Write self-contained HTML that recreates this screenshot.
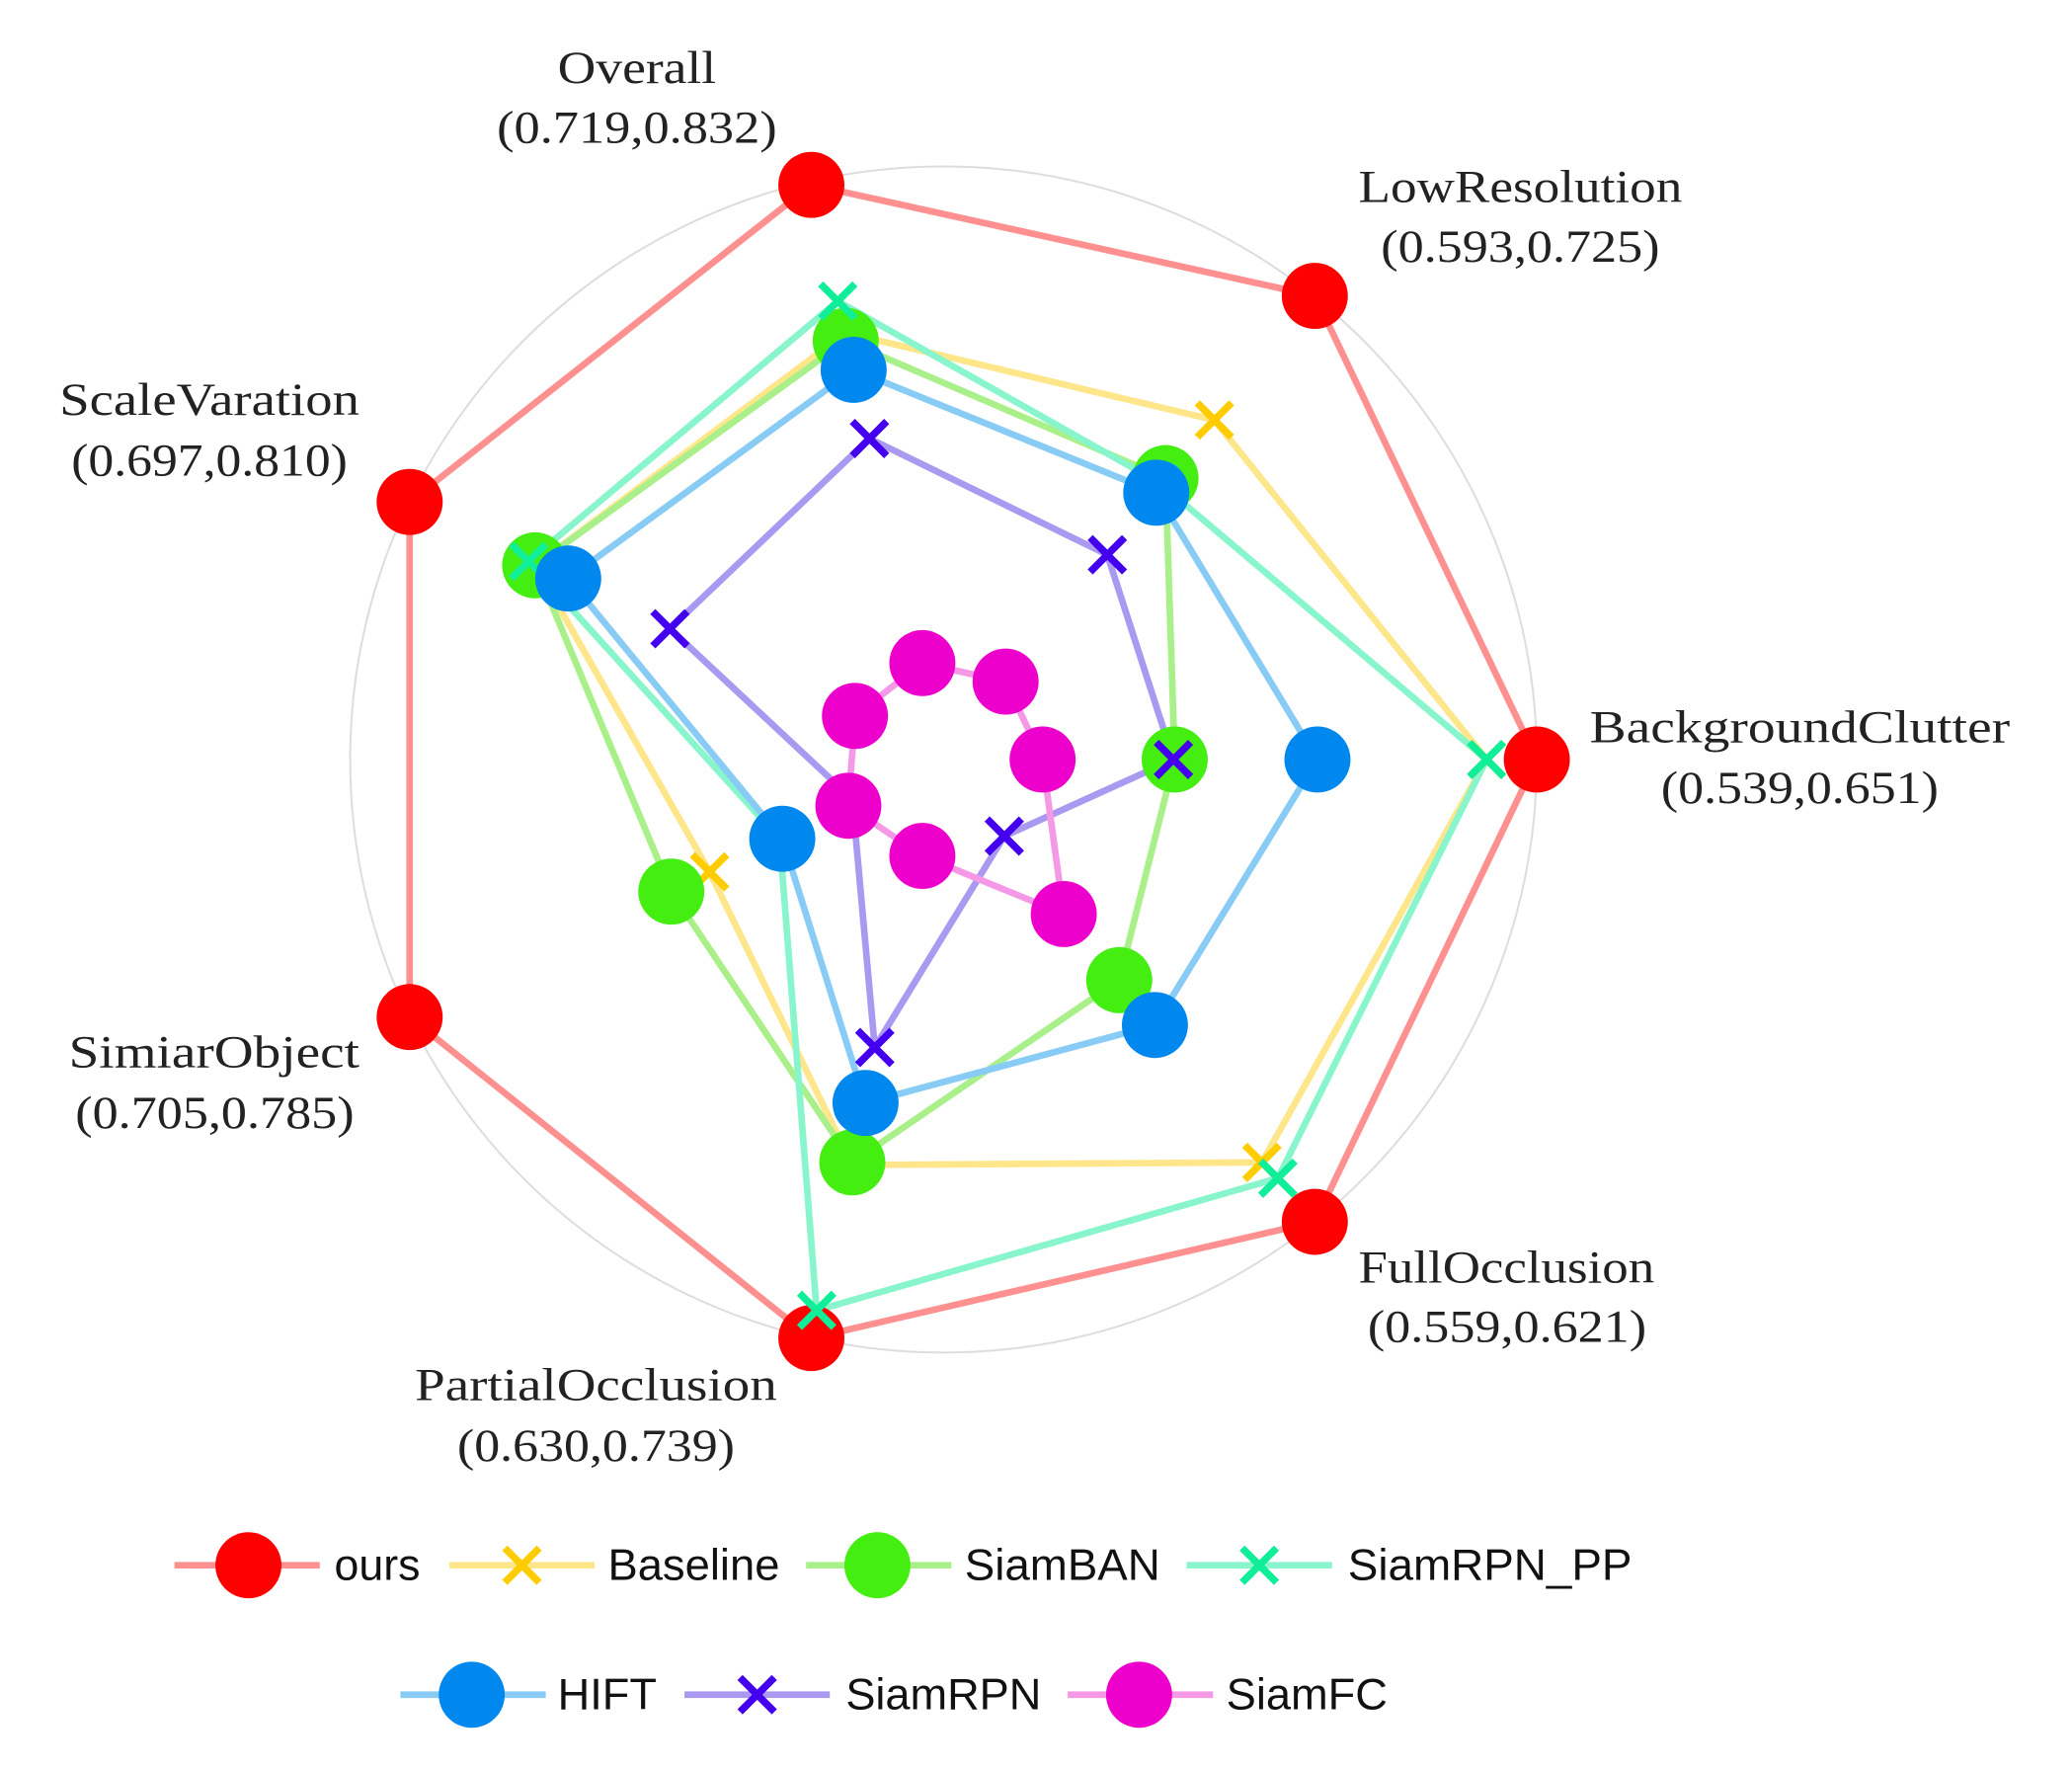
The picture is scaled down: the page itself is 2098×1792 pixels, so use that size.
<!DOCTYPE html>
<html><head><style>html,body{margin:0;padding:0;background:#fff}svg{display:block}</style></head>
<body>
<svg width="2098" height="1792" viewBox="0 0 1568 1340" preserveAspectRatio="none" xmlns="http://www.w3.org/2000/svg">
<defs>
<g id="x"><path d="M-13,-13L13,13M13,-13L-13,13" stroke-width="5.5" fill="none"/></g>
</defs>
<circle cx="714" cy="575" r="449" fill="none" stroke="#dddddd" stroke-width="1.5"/>
<g fill="none" stroke-width="5" stroke-linejoin="round">
<polygon stroke="#ff9090" points="1163,575 995,224 614,140 310,380 310,770 614,1013 995,925"/>
<polygon stroke="#ffe68a" points="1125,575 919,318 640,252 405,428 537,660 645,882 955,880"/>
<polygon stroke="#aaf08a" points="889,575 882,362 640,258 405,428 508,675 645,880 847,742"/>
<polygon stroke="#88f5cc" points="1125,575 878,366 634,228 400,425 590,635 618,992 967,892"/>
<polygon stroke="#88ccf5" points="997,575 875,373 646,280 430,438 592,635 655,835 874,776"/>
<polygon stroke="#aa99f0" points="888,575 838,420 658,332 507,476 645,605 662,793 760,633"/>
<polygon stroke="#f599e6" points="789,575 761,516 698,502 647,542 642,610 698,648 805,692"/>
</g>
<g fill="#ff0000"><circle cx="1163" cy="575" r="25"/><circle cx="995" cy="224" r="25"/><circle cx="614" cy="140" r="25"/><circle cx="310" cy="380" r="25"/><circle cx="310" cy="770" r="25"/><circle cx="614" cy="1013" r="25"/><circle cx="995" cy="925" r="25"/></g>
<g stroke="#ffcc00"><use href="#x" x="1125" y="575"/><use href="#x" x="919" y="318"/><use href="#x" x="640" y="252"/><use href="#x" x="405" y="428"/><use href="#x" x="537" y="660"/><use href="#x" x="645" y="882"/><use href="#x" x="955" y="880"/></g>
<g fill="#44ee11"><circle cx="889" cy="575" r="25"/><circle cx="882" cy="362" r="25"/><circle cx="640" cy="258" r="25"/><circle cx="405" cy="428" r="25"/><circle cx="508" cy="675" r="25"/><circle cx="645" cy="880" r="25"/><circle cx="847" cy="742" r="25"/></g>
<g stroke="#11ee99"><use href="#x" x="1125" y="575"/><use href="#x" x="878" y="366"/><use href="#x" x="634" y="228"/><use href="#x" x="400" y="425"/><use href="#x" x="590" y="635"/><use href="#x" x="618" y="992"/><use href="#x" x="967" y="892"/></g>
<g fill="#0088ee"><circle cx="997" cy="575" r="25"/><circle cx="875" cy="373" r="25"/><circle cx="646" cy="280" r="25"/><circle cx="430" cy="438" r="25"/><circle cx="592" cy="635" r="25"/><circle cx="655" cy="835" r="25"/><circle cx="874" cy="776" r="25"/></g>
<g stroke="#4400ee"><use href="#x" x="888" y="575"/><use href="#x" x="838" y="420"/><use href="#x" x="658" y="332"/><use href="#x" x="507" y="476"/><use href="#x" x="645" y="605"/><use href="#x" x="662" y="793"/><use href="#x" x="760" y="633"/></g>
<g fill="#ee00cc"><circle cx="789" cy="575" r="25"/><circle cx="761" cy="516" r="25"/><circle cx="698" cy="502" r="25"/><circle cx="647" cy="542" r="25"/><circle cx="642" cy="610" r="25"/><circle cx="698" cy="648" r="25"/><circle cx="805" cy="692" r="25"/></g>
<g font-family="'Liberation Serif',serif" font-size="35" fill="#222" lengthAdjust="spacingAndGlyphs">
<text x="422" y="63" textLength="120" lengthAdjust="spacingAndGlyphs">Overall</text><text x="376" y="108" textLength="212" lengthAdjust="spacingAndGlyphs">(0.719,0.832)</text>
<text x="1028" y="153" textLength="245" lengthAdjust="spacingAndGlyphs">LowResolution</text><text x="1045" y="198" textLength="211" lengthAdjust="spacingAndGlyphs">(0.593,0.725)</text>
<text x="1203" y="562" textLength="318" lengthAdjust="spacingAndGlyphs">BackgroundClutter</text><text x="1257" y="608" textLength="210" lengthAdjust="spacingAndGlyphs">(0.539,0.651)</text>
<text x="45" y="314" textLength="227" lengthAdjust="spacingAndGlyphs">ScaleVaration</text><text x="54" y="360" textLength="209" lengthAdjust="spacingAndGlyphs">(0.697,0.810)</text>
<text x="52" y="808" textLength="220" lengthAdjust="spacingAndGlyphs">SimiarObject</text><text x="57" y="854" textLength="211" lengthAdjust="spacingAndGlyphs">(0.705,0.785)</text>
<text x="314" y="1060" textLength="274" lengthAdjust="spacingAndGlyphs">PartialOcclusion</text><text x="346" y="1106" textLength="210" lengthAdjust="spacingAndGlyphs">(0.630,0.739)</text>
<text x="1028" y="971" textLength="224" lengthAdjust="spacingAndGlyphs">FullOcclusion</text><text x="1035" y="1016" textLength="211" lengthAdjust="spacingAndGlyphs">(0.559,0.621)</text>
</g>
<g stroke-width="5">
<line x1="132" y1="1185" x2="242" y2="1185" stroke="#ff9090"/><circle cx="188" cy="1185" r="25" fill="#ff0000" stroke="none"/>
<line x1="340" y1="1185" x2="450" y2="1185" stroke="#ffe68a"/><use href="#x" x="395" y="1185" stroke="#ffcc00"/>
<line x1="610" y1="1185" x2="720" y2="1185" stroke="#aaf08a"/><circle cx="664" cy="1185" r="25" fill="#44ee11" stroke="none"/>
<line x1="898" y1="1185" x2="1008" y2="1185" stroke="#88f5cc"/><use href="#x" x="953" y="1185" stroke="#11ee99"/>
<line x1="303" y1="1283" x2="413" y2="1283" stroke="#88ccf5"/><circle cx="357" cy="1283" r="25" fill="#0088ee" stroke="none"/>
<line x1="518" y1="1283" x2="628" y2="1283" stroke="#aa99f0"/><use href="#x" x="573" y="1283" stroke="#4400ee"/>
<line x1="808" y1="1283" x2="918" y2="1283" stroke="#f599e6"/><circle cx="862" cy="1283" r="25" fill="#ee00cc" stroke="none"/>
</g>
<g font-family="'Liberation Sans',sans-serif" font-size="33" fill="#111">
<text x="253" y="1196" textLength="65" lengthAdjust="spacingAndGlyphs">ours</text><text x="460" y="1196" textLength="130" lengthAdjust="spacingAndGlyphs">Baseline</text><text x="730" y="1196" textLength="148" lengthAdjust="spacingAndGlyphs">SiamBAN</text><text x="1020" y="1196" textLength="215" lengthAdjust="spacingAndGlyphs">SiamRPN_PP</text>
<text x="422" y="1294" textLength="75" lengthAdjust="spacingAndGlyphs">HIFT</text><text x="640" y="1294" textLength="148" lengthAdjust="spacingAndGlyphs">SiamRPN</text><text x="928" y="1294" textLength="122" lengthAdjust="spacingAndGlyphs">SiamFC</text>
</g>
</svg>
</body></html>
